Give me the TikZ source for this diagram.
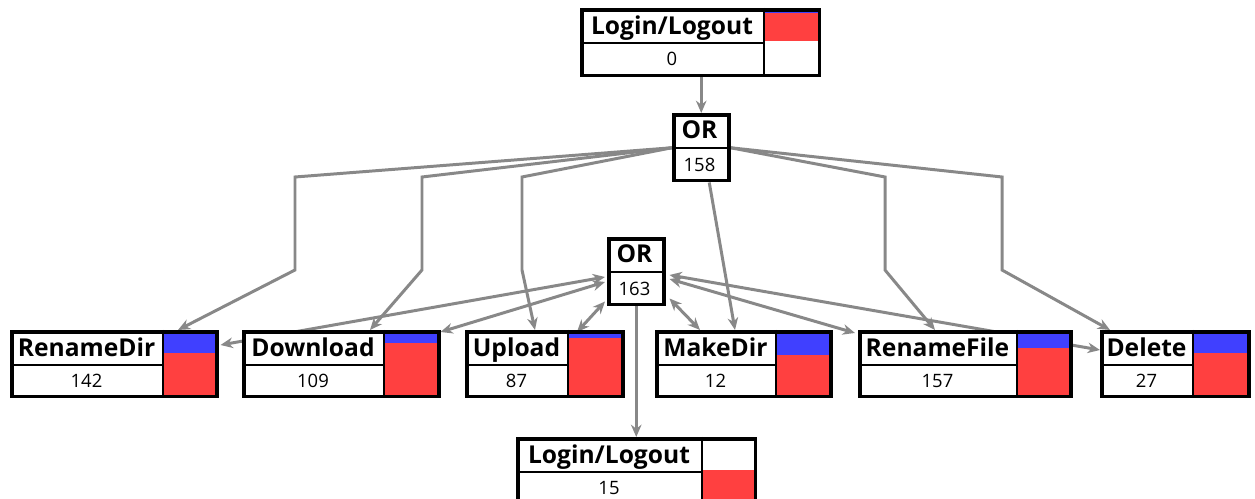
\documentclass[tikz,border=0pt]{standalone}
\usepackage{fontspec}
\setmainfont{Open Sans}
\usetikzlibrary{arrows.meta,calc,backgrounds}
\definecolor{barblue}{RGB}{64,64,255}
\definecolor{barred}{RGB}{255,64,64}
\definecolor{linkgray}{RGB}{136,136,136}

\begin{document}
\begin{tikzpicture}[x=0.02cm, y=-0.02cm,
    frame/.style={draw, line width=2pt, inner sep=0pt, anchor=north west},
    divider/.style={line width=0.9pt},
    title/.style={font=\bfseries\fontsize{14}{16}\selectfont, inner sep=0pt, anchor=base},
    count/.style={font=\fontsize{10.5}{12}\selectfont, inner sep=0pt, anchor=base},
    link/.style={draw=linkgray, line width=1.7pt, -{Stealth[length=7pt,width=6pt]}},
    both/.style={link, {Stealth[length=7pt,width=6pt]}-{Stealth[length=7pt,width=6pt]}}]

    \useasboundingbox (0,0) rectangle (1255,499);

    % --- Login/Logout in alto ---
    \fill[white] (580,8) rectangle (818,74);
    \fill[barblue] (764,8) rectangle (818,13);
    \fill[barred] (764,13) rectangle (818,41);
    \draw[divider] (580,43) -- (764,43);
    \draw[divider] (764,8) -- (764,74);
    \node[frame, minimum width=4.76cm, minimum height=1.32cm] (lin) at (580,8) {};
    \node[title] (lin-t) at (672,35) {Login/Logout};
    \node[count] (lin-n) at (672,66) {0};

    % --- Nodi OR ---
    \foreach \nm/\xl/\yt/\num in {or1/672/113/158, or2/607/237/163} {
        \fill[white] (\xl,\yt) rectangle ({\xl+55},{\yt+66});
        \draw[divider] (\xl,{\yt+35}) -- ({\xl+55},{\yt+35});
        \node[frame, minimum width=1.1cm, minimum height=1.32cm] (\nm) at (\xl,\yt) {};
        \node[title] (\nm-t) at ({\xl+27.5},{\yt+26}) {OR};
        \node[count] (\nm-n) at ({\xl+27.5},{\yt+59}) {\num};
    }

    % --- Azioni (titolo, contatore, barra blu/rossa) ---
    \foreach \nm/\xl/\xd/\xr/\yb/\ttl/\num in {rdir/10/163/215/353/RenameDir/142,
        dl/242/384/437/343/Download/109, up/465/568/621/338/Upload/87,
        mk/655/776/829/355/MakeDir/12, rf/858/1017/1069/348/RenameFile/157,
        del/1100/1193/1247/353/Delete/27} {
        \fill[white] (\xl,330) rectangle (\xr,395);
        \fill[barblue] (\xd,330) rectangle (\xr,\yb);
        \fill[barred] (\xd,\yb) rectangle (\xr,395);
        \draw[divider] (\xl,365) -- (\xd,365);
        \draw[divider] (\xd,330) -- (\xd,395);
        \node[frame, minimum width={(\xr-\xl)*0.02cm}, minimum height=1.3cm] (\nm) at (\xl,330) {};
        \node[title] (\nm-t) at ({(\xl+\xd)/2},357) {\ttl};
        \node[count] (\nm-n) at ({(\xl+\xd)/2},388) {\num};
    }

    % --- Login/Logout in basso ---
    \fill[white] (516,437) rectangle (754,503);
    \fill[barred] (702,470) rectangle (754,503);
    \draw[divider] (516,472) -- (702,472);
    \draw[divider] (702,437) -- (702,503);
    \node[frame, minimum width=4.76cm, minimum height=1.32cm] (lout) at (516,437) {};
    \node[title] (lout-t) at (609,464) {Login/Logout};
    \node[count] (lout-n) at (609,495) {15};

    % --- Collegamenti (dietro ai riquadri) ---
    \begin{scope}[on background layer]
        \draw[link] (lin.south -| or1.north) -- (or1.north);
        % dal primo OR
        \draw[link] (or1.west) -- (295,177) -- (295,270) -- ($(rdir.north west)+(168,0)$);
        \draw[link] (or1.west) -- (422,177) -- (422,270) -- ($(dl.north west)+(128,0)$);
        \draw[link] (or1.west) -- (522,177) -- (522,270) -- ($(up.north west)+(70,0)$);
        \draw[link] ($(or1.south)+(8,0)$) -- ($(mk.north west)+(80,0)$);
        \draw[link] (or1.east) -- (885,177) -- (885,270) -- ($(rf.north west)+(77,0)$);
        \draw[link] (or1.east) -- (1002,177) -- (1002,270) -- ($(del.north west)+(10,0)$);
        % dal secondo OR
        \draw[both] ($(or2.north west)+(-2,40)$) -- ($(rdir.north east)+(2,15)$);
        \draw[both] ($(or2.north west)+(-2,45)$) -- ($(dl.north east)+(0,2)$);
        \draw[both] ($(or2.south west)+(-2,-5)$) -- ($(up.north west)+(112,2)$);
        \draw[both] ($(or2.south east)+(4,-8)$) -- ($(mk.north west)+(45,0)$);
        \draw[both] ($(or2.north east)+(4,42)$) -- ($(rf.north west)+(-3,3)$);
        \draw[both] ($(or2.north east)+(4,38)$) -- ($(del.north west)+(0,20)$);
        \draw[link] (or2.south) -- (or2.south |- lout.north);
    \end{scope}

\end{tikzpicture}
\end{document}
